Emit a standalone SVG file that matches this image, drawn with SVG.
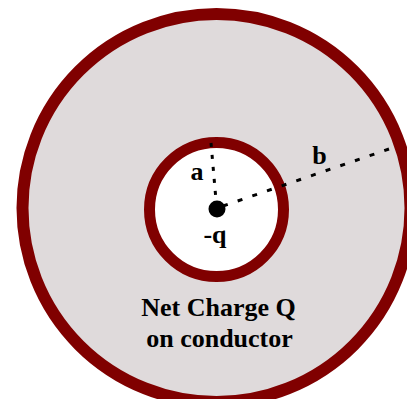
<svg xmlns="http://www.w3.org/2000/svg" width="407" height="399" viewBox="0 0 407 399">
<style>
.ring{stroke:#800000;}
.dash{stroke:#000;stroke-width:3;fill:none;}
.lbl{font-family:"Liberation Serif","Times New Roman",serif;font-weight:bold;font-size:26px;fill:#000;text-anchor:middle;}
</style>
<rect width="407" height="399" fill="#fff"/>
<g id="outer-conductor">
<circle class="ring" cx="216.5" cy="208" r="194" fill="#dfdadb" stroke-width="12"/>
</g>
<g id="cavity">
<circle class="ring" cx="216.5" cy="209.5" r="67" fill="#fff" stroke-width="11"/>
</g>
<g id="connectors">
<line class="dash" x1="211" y1="143" x2="216" y2="200" stroke-dasharray="4 8"/>
<line class="dash" x1="223" y1="206" x2="392" y2="148" stroke-dasharray="5 10.5"/>
</g>
<g id="charge">
<circle cx="217" cy="209" r="8.5" fill="#000"/>
<text class="lbl" x="215" y="243">-q</text>
</g>
<g id="labels">
<text class="lbl" x="197" y="180">a</text>
<text class="lbl" x="319.5" y="164">b</text>
<text class="lbl" x="218.5" y="316" font-size="27.5">Net Charge Q</text>
<text class="lbl" x="219.5" y="347" font-size="26.5">on conductor</text>
</g>
</svg>
